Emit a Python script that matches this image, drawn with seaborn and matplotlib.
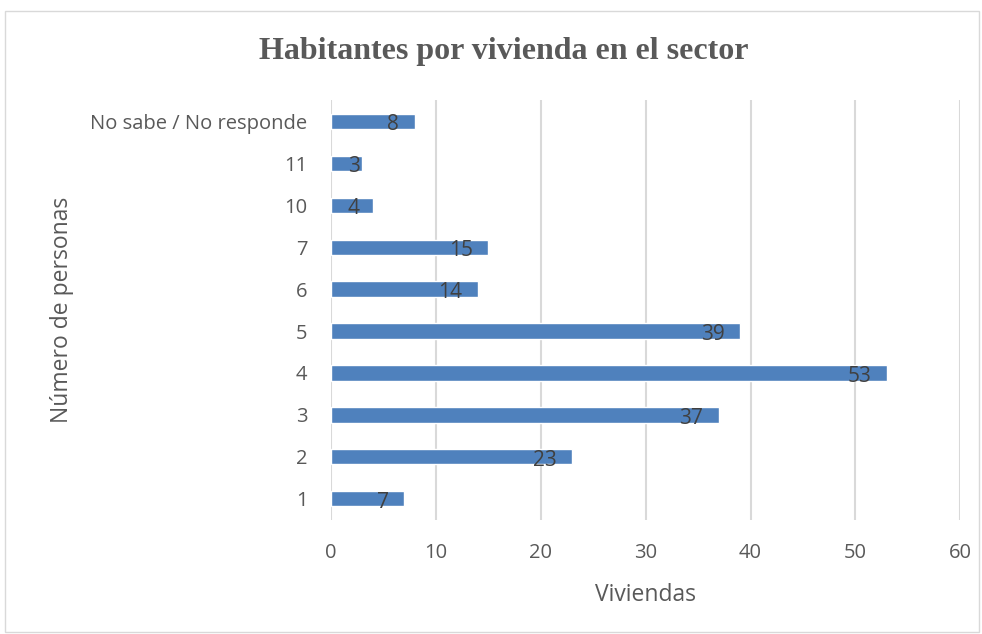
import matplotlib
matplotlib.use("Agg")
import matplotlib.pyplot as plt
import seaborn as sns
import pandas as pd

categorias = ["No sabe / No responde", "11", "10", "7", "6", "5", "4", "3", "2", "1"]
viviendas = [8, 3, 4, 15, 14, 39, 53, 37, 23, 7]
ticks_x = [0, 10, 20, 30, 40, 50, 60]

sns.set_theme(style="white")
plt.rcParams['font.family'] = ['Open Sans', 'DejaVu Sans']

df = pd.DataFrame({"persona": categorias, "viviendas": viviendas})

fig = plt.figure(figsize=(9.82, 6.34), dpi=100)
ax = fig.add_axes([0.337, 0.180, 0.641, 0.662])

sns.barplot(data=df, y="persona", x="viviendas", orient="h", color="#4f81bd",
            saturation=1, width=0.36, order=categorias, ax=ax, zorder=3)

# etiquetas dentro del extremo de cada barra (las barras cortas: desde la base)
for i, v in enumerate(viviendas):
    if v < 6:
        ax.text(1.6, i + 0.08, str(v), ha="left", va="center",
                fontsize=15, color="#404040", zorder=4)
    else:
        ax.text(v - 1.5, i + 0.08, str(v), ha="right", va="center",
                fontsize=15, color="#404040", zorder=4)

ax.set_xlim(0, 60)
ax.set_ylim(9.5, -0.5)
ax.set_xticks(ticks_x)
ax.grid(axis="x", color="#d9d9d9", linewidth=1.5, zorder=0)
ax.grid(axis="y", visible=False)
for s in ax.spines.values():
    s.set_visible(False)
ax.tick_params(axis="both", length=0, labelsize=14.5, labelcolor="#595959")
ax.tick_params(axis="x", pad=17)
ax.tick_params(axis="y", pad=17)

ax.set_xlabel("Viviendas", fontsize=16.5, color="#595959", labelpad=14)
ax.set_ylabel("")
fig.text(62 / 982, 1 - 310 / 634, "Número de personas", rotation=90,
         ha="center", va="center", fontsize=16.5, color="#595959")

fig.text(0.513, 1 - 52 / 634, "Habitantes por vivienda en el sector",
         ha="center", va="center", fontsize=23, fontweight="bold",
         family="Liberation Serif", color="#595959")

border = plt.Rectangle((5 / 982, 1 - 632 / 634), 974 / 982, 621 / 634,
                       transform=fig.transFigure, fill=False,
                       edgecolor="#d9d9d9", linewidth=1)
fig.patches.append(border)

fig.savefig("out.png", dpi=100)
